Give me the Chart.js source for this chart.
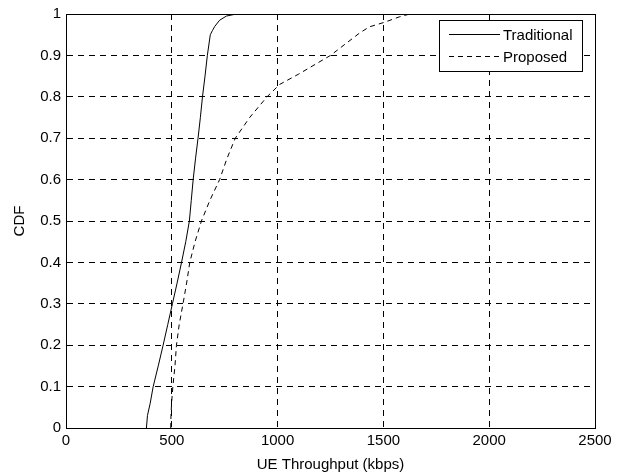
<!DOCTYPE html>
<html>
<head>
<meta charset="utf-8">
<script src="https://cdn.jsdelivr.net/npm/chart.js@4/dist/chart.umd.min.js"></script>
<style>
  html, body { margin: 0; padding: 0; background: #fff; }
  #wrap { width: 624px; height: 474px; }
</style>
</head>
<body>
<div id="wrap"><canvas id="cdf-chart" width="624" height="474"></canvas></div>
<script>
// values
const tradX = [380, 385, 398, 412, 436, 459, 481, 503, 525, 546, 566, 583, 592, 601, 612, 624, 635, 645, 657, 668, 682, 692, 703, 726, 758, 805, 2500];
const tradY = [0, 0.03, 0.06, 0.1, 0.15, 0.2, 0.25, 0.3, 0.35, 0.4, 0.45, 0.5, 0.55, 0.6, 0.65, 0.7, 0.75, 0.8, 0.85, 0.9, 0.95, 0.96, 0.97, 0.985, 0.995, 1, 1];

const propX = [495, 496, 499, 505, 515, 522, 535, 553, 570, 585, 610, 640, 680, 726, 760, 800, 868, 950, 1010, 1100, 1250, 1390, 1434, 1505, 1575, 1625, 2500];
const propY = [0, 0.03, 0.06, 0.1, 0.15, 0.2, 0.25, 0.3, 0.35, 0.4, 0.45, 0.5, 0.55, 0.6, 0.65, 0.7, 0.75, 0.8, 0.83, 0.855, 0.9, 0.955, 0.969, 0.98, 0.993, 1, 1];

const xTicks = [0, 500, 1000, 1500, 2000, 2500];
const yTicks = [0, 0.1, 0.2, 0.3, 0.4, 0.5, 0.6, 0.7, 0.8, 0.9, 1];

const FONT = "'Liberation Sans', Arial, sans-serif";
const GRID_DASH = [6, 5];

const toPoints = (xs, ys) => xs.map((x, i) => ({ x: x, y: ys[i] }));

// box around the plot + legend inside the top right corner
const frameAndLegend = {
  id: "frameAndLegend",
  afterDraw(chart) {
    const ctx = chart.ctx;
    const a = chart.chartArea;
    ctx.save();
    ctx.strokeStyle = "#000";
    ctx.lineWidth = 1;
    ctx.setLineDash([]);
    ctx.strokeRect(Math.round(a.left) + 0.5, Math.round(a.top) + 0.5, Math.round(a.right - a.left), Math.round(a.bottom - a.top));

    const bx = 439.5, by = 20.5, bw = 143, bh = 51;
    ctx.fillStyle = "#fff";
    ctx.fillRect(bx, by, bw, bh);
    ctx.strokeRect(bx, by, bw, bh);

    ctx.font = "15px " + FONT;
    ctx.textBaseline = "middle";
    chart.data.datasets.forEach((ds, i) => {
      const ly = 34.5 + i * 22;
      ctx.strokeStyle = ds.borderColor;
      ctx.lineWidth = 1;
      ctx.setLineDash(ds.borderDash || []);
      ctx.beginPath();
      ctx.moveTo(449, ly);
      ctx.lineTo(500, ly);
      ctx.stroke();
      ctx.fillStyle = "#000";
      ctx.fillText(ds.label, 503, ly + 1);
    });
    ctx.restore();
  }
};

new Chart(document.getElementById("cdf-chart"), {
  type: "scatter",
  data: {
    datasets: [
      {
        label: "Traditional",
        data: toPoints(tradX, tradY),
        showLine: true,
        borderColor: "#000",
        borderWidth: 1,
        pointRadius: 0,
        tension: 0
      },
      {
        label: "Proposed",
        data: toPoints(propX, propY),
        showLine: true,
        borderColor: "#000",
        borderWidth: 1,
        borderDash: [5, 4],
        pointRadius: 0,
        tension: 0
      }
    ]
  },
  plugins: [frameAndLegend],
  options: {
    responsive: false,
    animation: false,
    devicePixelRatio: 1,
    layout: { padding: { top: 12, right: 29, bottom: 0, left: 0 } },
    plugins: {
      legend: { display: false },
      tooltip: { enabled: false }
    },
    scales: {
      x: {
        type: "linear",
        min: 0,
        max: 2500,
        afterBuildTicks: (axis) => { axis.ticks = xTicks.map((v) => ({ value: v })); },
        afterFit: (axis) => { axis.height = 46; },
        border: { display: true, color: "#000", width: 1, dash: GRID_DASH },
        grid: { color: "#000", lineWidth: 1, drawTicks: false },
        ticks: { color: "#000", font: { family: FONT, size: 15 }, padding: 4, maxRotation: 0, callback: (v) => String(v) },
        title: { display: true, text: "UE Throughput (kbps)", color: "#000", font: { family: FONT, size: 15 }, padding: { top: 1, bottom: 0 } }
      },
      y: {
        type: "linear",
        min: 0,
        max: 1,
        afterBuildTicks: (axis) => { axis.ticks = yTicks.map((v) => ({ value: v })); },
        afterFit: (axis) => { axis.width = 66; },
        border: { display: true, color: "#000", width: 1, dash: GRID_DASH },
        grid: { color: "#000", lineWidth: 1, drawTicks: false },
        ticks: { color: "#000", font: { family: FONT, size: 15 }, padding: 5, callback: (v) => String(Math.round(v * 10) / 10) },
        title: { display: true, text: "CDF", color: "#000", font: { family: FONT, size: 15 }, padding: { top: 11, bottom: 0 } }
      }
    }
  }
});
</script>
</body>
</html>
